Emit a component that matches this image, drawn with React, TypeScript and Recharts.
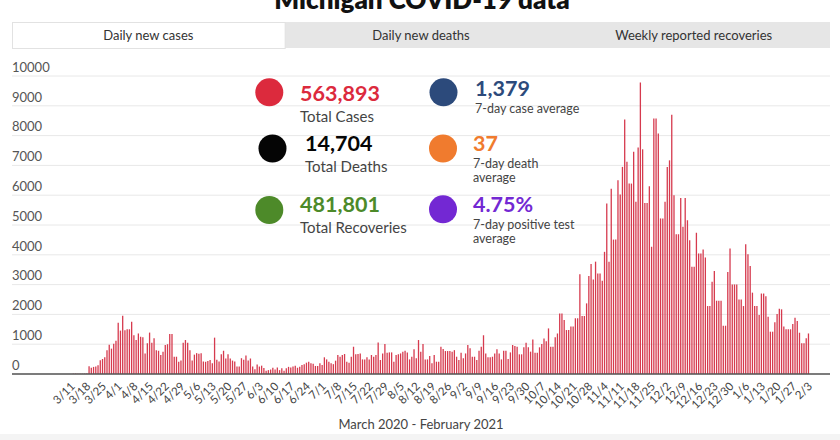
import React from 'react';
import { BarChart, Bar, XAxis, YAxis, CartesianGrid } from 'recharts';

// Daily new cases, one value per day starting 3/11/2020
const CASES: number[] = [
  0, 10, 13, 8, 12, 8, 12, 15,
  256, 213, 238, 248, 293, 463, 503, 562, 801, 978, 851, 1012, 1117, 1719, 1457, 1953,
  1470, 1500, 1500, 1750, 1300, 1140, 1360, 1250, 1230, 690, 1030, 1390, 1050, 1200, 800, 780, 640, 750, 970, 1000, 1340, 1340, 580, 580, 410, 450, 1050, 1140, 1050,
  800, 450, 650, 700, 680, 700, 420, 410, 440, 470, 360, 1220,
  480, 420, 660, 780, 520, 660, 520, 450, 420, 250, 250, 530, 480, 620, 450, 520, 250, 160, 320, 250, 280, 200, 110, 130, 150, 210, 150, 220, 130, 190, 110, 190, 240, 220, 250, 280, 210, 240, 300, 330, 380, 410, 360, 340, 270, 270,
  360, 300, 560, 490, 413, 360, 330, 447, 637, 580, 637, 670, 413, 380, 580, 915, 660, 670, 690, 490, 490, 560, 490, 637, 580, 637, 1060, 470, 690, 1005, 715, 725, 725, 413, 637, 660, 690, 750, 780, 725, 490, 580, 830, 525, 1140, 750, 1005, 490, 490, 600, 360, 637, 413, 413, 915, 840,
  770, 770, 770, 750, 800, 580, 470, 715, 525, 690, 970, 860, 580, 580, 470, 780, 915, 1300, 690, 560, 560, 580, 690, 830, 690, 490, 780, 780, 500, 725, 970, 940, 915, 660, 660, 895, 1050, 895, 750, 1160, 715, 715, 895, 1005, 1195, 1100, 1530, 915, 915, 1230, 1360, 2030, 2030, 1810, 1475, 1475,
  1590, 1590, 1870, 1870, 3350, 1945, 1945, 2370, 3290, 3690, 3170, 3770, 3370, 3370, 3130, 4100, 5720, 3770, 6220, 4510, 4510, 6500, 6020, 6950, 8540, 7120, 6390, 6390, 7460, 5780, 7600, 9780, 7540, 5740, 5740, 6300, 4270, 8570, 8570, 8070, 5220, 5220, 5780, 6950, 7170, 8700, 6000, 4690, 4690, 5910, 4940, 5910, 5160,
  4490, 3600, 3600, 4740, 4045, 4045, 4180, 3910, 2280, 2280, 3095, 3460, 2460, 2460, 2460, 1620, 1620, 3420, 4210, 3005, 3005, 3005, 2500, 2500, 2280, 4350, 4020, 3620, 2730, 2280, 2280, 1980, 2700, 2700, 2610, 1920, 1420, 1420, 1740, 2010, 2190, 2170, 1590, 1500, 1500, 1500, 1680, 1890, 1780, 1385, 1030, 1030, 1200, 1360,
];

const X_TICK_LABELS: string[] = [
  '3/11', '3/18', '3/25', '4/1', '4/8', '4/15', '4/22', '4/29', '5/6', '5/13', '5/20', '5/27',
  '6/3', '6/10', '6/17', '6/24', '7/1', '7/8', '7/15', '7/22', '7/29', '8/5', '8/12', '8/19',
  '8/26', '9/2', '9/9', '9/16', '9/23', '9/30', '10/7', '10/14', '10/21', '10/28', '11/4', '11/11',
  '11/18', '11/25', '12/2', '12/9', '12/16', '12/23', '12/30', '1/6', '1/13', '1/20', '1/27', '2/3',
];

const Y_TICKS: number[] = [0, 1000, 2000, 3000, 4000, 5000, 6000, 7000, 8000, 9000, 10000];

const TITLE = 'Michigan COVID-19 data';
const TABS: string[] = ['Daily new cases', 'Daily new deaths', 'Weekly reported recoveries'];
const X_LABEL = 'March 2020 - February 2021';

const STAT_VALUES: string[] = ['563,893', '1,379', '14,704', '37', '481,801', '4.75%'];
const STAT_LABELS: string[][] = [
  ['Total Cases'],
  ['7-day case average'],
  ['Total Deaths'],
  ['7-day death', 'average'],
  ['Total Recoveries'],
  ['7-day positive test', 'average'],
];
const STAT_COLORS: string[] = ['#dc2a3d', '#2c4a7b', '#050505', '#f07b2e', '#4d8a29', '#7328d3'];

// layout (positions only)
const STAT_LAYOUT = [
  { cx: 269.3, cy: 92.3, tx: 300, vy: 100.5, ly: [122] },
  { cx: 443.5, cy: 92.3, tx: 475, vy: 95.5, ly: [113] },
  { cx: 272.5, cy: 148.5, tx: 305, vy: 150.7, ly: [171.5] },
  { cx: 443, cy: 148.5, tx: 473, vy: 150.7, ly: [167.5, 181.5] },
  { cx: 269.3, cy: 210, tx: 300, vy: 211.7, ly: [233.3] },
  { cx: 443, cy: 209.3, tx: 473, vy: 211.7, ly: [229, 243] },
];

const FONT = 'Lato, "Noto Sans", sans-serif';

const data = CASES.map((cases, day) => ({ day, cases }));
const xTicks = X_TICK_LABELS.map((_, i) => i * 7);

const XTick = (props: any) => {
  const { x, payload } = props;
  const label = X_TICK_LABELS[Math.round(payload.value / 7)];
  const ax = x + 4;
  const ay = 387;
  return (
    <text
      x={ax}
      y={ay}
      textAnchor="end"
      fontSize={11.5}
      fill="#444"
      fontFamily={FONT}
      transform={`rotate(-45 ${ax} ${ay})`}
    >
      {label}
    </text>
  );
};

const YTick = (props: any) => {
  const { y, payload } = props;
  return (
    <text x={12} y={y - 4.3} fontSize={13} fill="#555" fontFamily={FONT} textAnchor="start">
      {payload.value}
    </text>
  );
};

export default function App() {
  const tabW = (830 - 12) / 3;
  return (
    <div
      style={{
        position: 'absolute',
        left: 0,
        top: 0,
        width: 840,
        height: 440,
        background: '#fff',
        overflow: 'hidden',
        fontFamily: FONT,
      }}
    >
      <BarChart
        width={840}
        height={440}
        data={data}
        margin={{ top: 76, right: 10, bottom: 6, left: 0 }}
        barCategoryGap={0}
      >
        <CartesianGrid horizontal vertical={false} stroke="#e8e8e8" strokeWidth={1} />
        <XAxis
          dataKey="day"
          type="number"
          domain={[-26.6, 338.4]}
          ticks={xTicks}
          interval={0}
          height={60}
          tickLine={false}
          axisLine={{ stroke: '#555', strokeWidth: 1.5 }}
          tick={<XTick />}
        />
        <YAxis
          type="number"
          domain={[0, 10000]}
          ticks={Y_TICKS}
          interval={0}
          width={12}
          axisLine={false}
          tickLine={false}
          tick={<YTick />}
        />
        <Bar dataKey="cases" fill="#d63a4e" barSize={1.3} isAnimationActive={false} />
      </BarChart>
      <svg
        width={840}
        height={440}
        style={{ position: 'absolute', left: 0, top: 0, pointerEvents: 'none' }}
      >
        <text x={422} y={9} textAnchor="middle" fontSize={26} fontWeight={800} fill="#111" fontFamily={FONT}>
          {TITLE}
        </text>
        <rect x={12} y={22} width={818} height={26} fill="#e6e6e6" />
        <rect x={12.5} y={22.5} width={tabW} height={26} fill="#fff" stroke="#e2e2e2" />
        {TABS.map((t, i) => (
          <text
            key={t}
            x={12 + tabW * i + tabW / 2}
            y={39.5}
            textAnchor="middle"
            fontSize={13}
            fill="#333"
            fontFamily={FONT}
          >
            {t}
          </text>
        ))}
        {STAT_VALUES.map((v, i) => {
          const L = STAT_LAYOUT[i];
          return (
            <g key={v}>
              <circle cx={L.cx} cy={L.cy} r={14} fill={STAT_COLORS[i]} />
              <text x={L.tx} y={L.vy} fontSize={21.5} fontWeight={700} fill={STAT_COLORS[i]} fontFamily={FONT}>
                {v}
              </text>
              {STAT_LABELS[i].map((lab, j) => (
                <text
                  key={lab}
                  x={L.tx}
                  y={L.ly[j]}
                  fontSize={i % 2 === 0 ? 15 : 12.5}
                  fill="#444"
                  fontFamily={FONT}
                >
                  {lab}
                </text>
              ))}
            </g>
          );
        })}
        <text x={421} y={429} textAnchor="middle" fontSize={13} fill="#444" fontFamily={FONT}>
          {X_LABEL}
        </text>
        <rect x={0} y={434} width={840} height={6} fill="#f4f4f4" />
      </svg>
    </div>
  );
}
